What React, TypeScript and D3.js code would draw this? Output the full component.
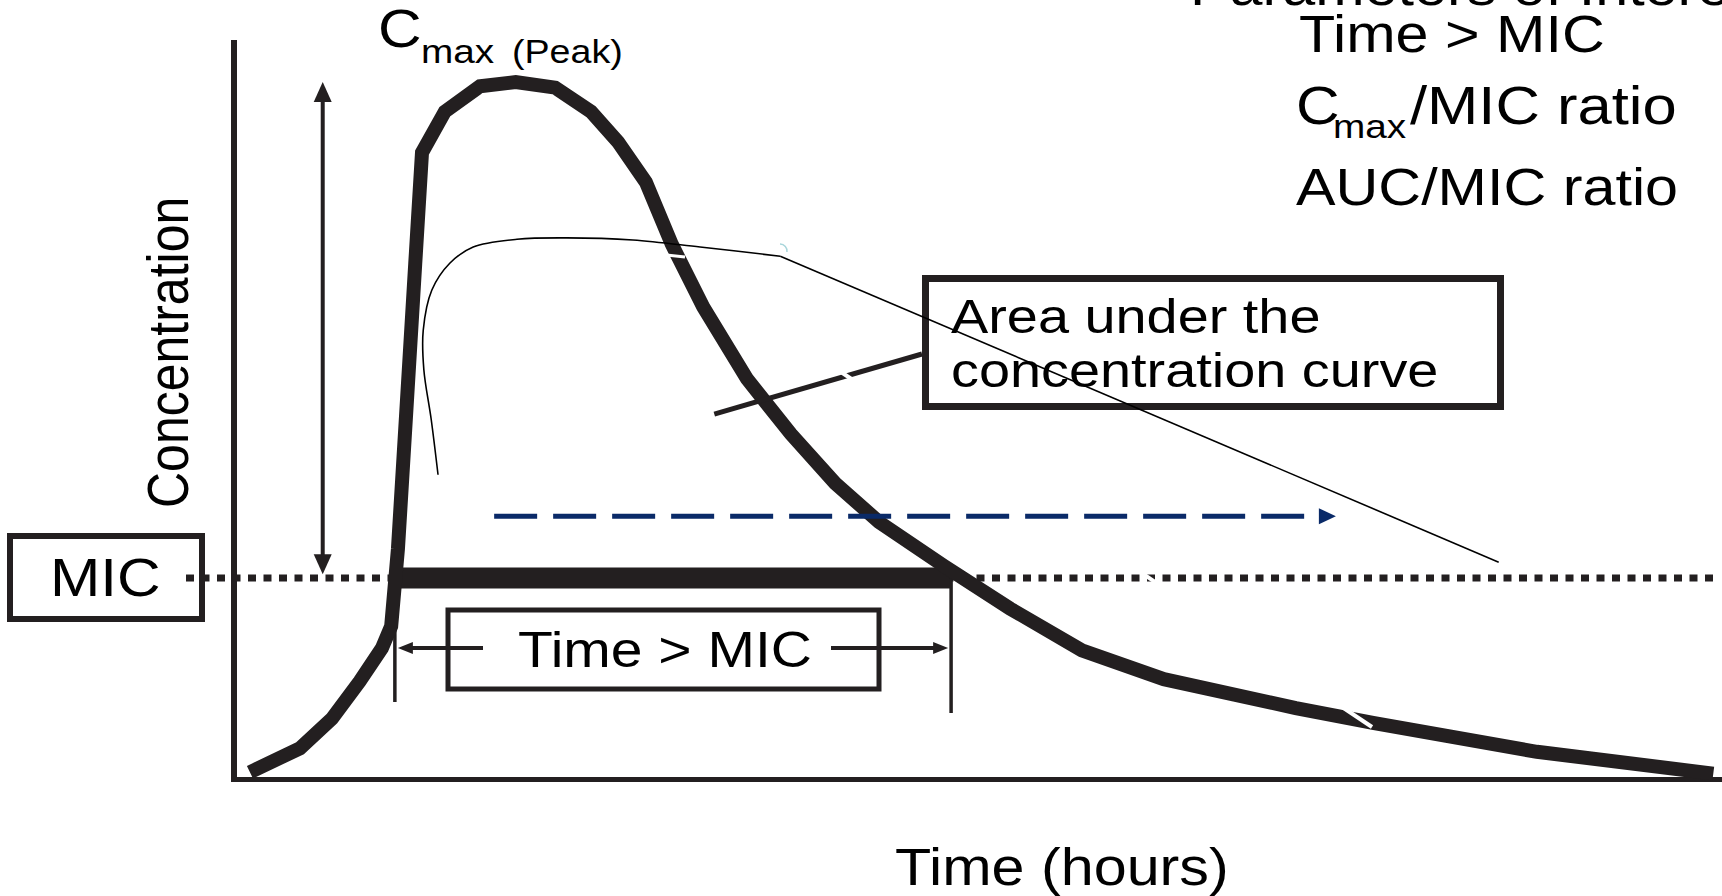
import React from 'react';
import * as d3 from 'd3';

const W = 1722;
const H = 896;

// Concentration–time profile (time in hours, concentration in % of Cmax)
const timeHours = [0.21, 1.02, 1.54, 1.99, 2.35, 2.5, 2.61, 2.74, 2.89, 3.0, 3.37, 3.94, 4.52, 5.16, 5.74, 6.18, 6.63, 7.05, 7.56, 8.27, 8.98, 9.7, 10.41, 11.46, 12.54, 13.7, 15.03, 17.17, 18.42, 21.08, 23.94];
const concentration = [1.1, 4.5, 8.7, 14.0, 18.7, 21.8, 32.8, 51.5, 73.2, 89.0, 94.8, 98.4, 99.0, 98.2, 94.8, 90.5, 84.8, 76.0, 67.1, 56.9, 49.1, 42.1, 36.6, 30.4, 24.3, 18.4, 14.3, 10.2, 8.1, 4.0, 0.9];

// Hand-drawn AUC outline sketch (thin line)
const aucSketchTime = [3.26, 3.15, 3.03, 3.02, 3.16, 3.45, 3.83, 4.54, 5.35, 6.42, 7.51, 8.81];
const aucSketchConc = [43.3, 51.1, 58.2, 63.8, 69.5, 73.3, 75.6, 76.7, 76.9, 76.6, 75.6, 74.3];
const aucPointerEnd = [20.46, 30.9];

const micLevel = 28.65;
const timeAboveMic = [2.56, 11.58];
const cmaxArrowTime = 1.39;
const cmaxArrowConc = [99.0, 29.2];
const durationArrowTime = [4.17, 17.82];
const durationArrowConc = 37.4;
const aucLeaderStart = [7.74, 51.9];

const parameters = ['Time > MIC', 'max', '/MIC ratio', 'AUC/MIC ratio'];

const INK = '#231f20';
const NAVY = '#0a2a68';
const FONT = "'Liberation Sans', Arial, Helvetica, sans-serif";
const SX = 1.14;

const x = d3.scaleLinear().domain([0, 24]).range([237, 237 + 1480]);
const y = d3.scaleLinear().domain([0, 100]).range([780, 75]);

function Txt({ px, py, size, children, rotate = false }: any) {
  const tr = rotate
    ? `translate(${px},${py}) rotate(-90) scale(1,${SX})`
    : `translate(${px},${py}) scale(${SX},1)`;
  return (
    <text transform={tr} fontSize={size} fontFamily={FONT} fill="#000">
      {children}
    </text>
  );
}

export default function App() {
  const mainLine = d3
    .line<number>()
    .x((_, i) => x(timeHours[i]))
    .y((c) => y(c))
    .curve(d3.curveLinear)(concentration) as string;

  const aucLine = d3
    .line<number>()
    .x((_, i) => x(aucSketchTime[i]))
    .y((c) => y(c))
    .curve(d3.curveCatmullRom.alpha(0.5))(aucSketchConc) as string;

  const last = aucSketchTime.length - 1;
  const micY = y(micLevel);
  const ax = x(cmaxArrowTime);
  const aTop = y(cmaxArrowConc[0]);
  const aBot = y(cmaxArrowConc[1]);
  const t1 = x(timeAboveMic[0]);
  const t2 = x(timeAboveMic[1]);
  const dY = y(durationArrowConc);
  const d0 = x(durationArrowTime[0]);
  const d1 = x(durationArrowTime[1]);
  const arrowY = 648;

  return (
    <svg
      width={W}
      height={H}
      viewBox={`0 0 ${W} ${H}`}
      style={{ position: 'fixed', left: 0, top: 0, background: '#fff' }}
    >
      <rect x={0} y={0} width={W} height={H} fill="#fff" />

      {/* axes */}
      <line x1={234} y1={40} x2={234} y2={782} stroke={INK} strokeWidth={6} />
      <line x1={231} y1={779.5} x2={W} y2={779.5} stroke={INK} strokeWidth={5} />

      {/* MIC dotted line */}
      <line x1={186} y1={micY} x2={1716} y2={micY} stroke={INK} strokeWidth={7} strokeDasharray="8 7.5" />

      {/* time above MIC bar */}
      <line x1={t1 - 2} y1={micY} x2={t2} y2={micY} stroke={INK} strokeWidth={21} />
      <line x1={t1} y1={micY} x2={t1} y2={702} stroke={INK} strokeWidth={3.5} />
      <line x1={t2} y1={micY} x2={t2} y2={713} stroke={INK} strokeWidth={3.5} />

      {/* Cmax double arrow */}
      <line x1={ax} y1={aTop + 15} x2={ax} y2={aBot - 15} stroke={INK} strokeWidth={4} />
      <polygon points={`${ax},${aTop} ${ax - 9},${aTop + 20} ${ax + 9},${aTop + 20}`} fill={INK} />
      <polygon points={`${ax},${aBot} ${ax - 9},${aBot - 20} ${ax + 9},${aBot - 20}`} fill={INK} />

      {/* main concentration curve */}
      <path d={mainLine} fill="none" stroke={INK} strokeWidth={14} strokeLinejoin="miter" strokeMiterlimit={3} />

      {/* leader line to the AUC box */}
      <line x1={x(aucLeaderStart[0])} y1={y(aucLeaderStart[1])} x2={922} y2={354} stroke={INK} strokeWidth={5} />

      {/* white scratch artefacts */}
      <line x1={835} y1={368} x2={1372} y2={727} stroke="#fff" strokeWidth={4} />
      <line x1={657} y1={254} x2={685} y2={257} stroke="#fff" strokeWidth={3} />

      {/* thin AUC sketch line */}
      <path d={aucLine} fill="none" stroke="#000" strokeWidth={1.6} />
      <path d="M 780 244 A 7 7 0 0 1 787 252" fill="none" stroke="#a9d6db" strokeWidth={1.5} />

      {/* dashed duration arrow */}
      <line x1={d0} y1={dY} x2={d1 - 16} y2={dY} stroke={NAVY} strokeWidth={5} strokeDasharray="43 16" />
      <polygon points={`${d1},${dY} ${d1 - 17},${dY - 8} ${d1 - 17},${dY + 8}`} fill={NAVY} />

      {/* MIC box */}
      <rect x={10} y={536} width={192} height={83} fill="#fff" stroke={INK} strokeWidth={6} />
      <Txt px={50} py={596} size={53}>MIC</Txt>
      <line x1={186} y1={micY} x2={199} y2={micY} stroke={INK} strokeWidth={7} strokeDasharray="8 7.5" />

      {/* Time > MIC box */}
      <rect x={448} y={610} width={431} height={79} fill="#fff" stroke={INK} strokeWidth={5} />
      <Txt px={518} py={667} size={50}>Time &gt; MIC</Txt>
      <line x1={t1 + 8} y1={arrowY} x2={483} y2={arrowY} stroke={INK} strokeWidth={4} />
      <polygon points={`${t1 + 3},${arrowY} ${t1 + 18},${arrowY - 6} ${t1 + 18},${arrowY + 6}`} fill={INK} />
      <line x1={831} y1={arrowY} x2={t2 - 8} y2={arrowY} stroke={INK} strokeWidth={4} />
      <polygon points={`${t2 - 3},${arrowY} ${t2 - 18},${arrowY - 6} ${t2 - 18},${arrowY + 6}`} fill={INK} />

      {/* AUC box */}
      <rect x={925.5} y={278.5} width={575} height={128} fill="none" stroke={INK} strokeWidth={7} />
      <Txt px={951} py={333} size={49}>Area under the</Txt>
      <Txt px={951} py={387} size={49}>concentration curve</Txt>
      {/* the thin pointer crosses over the box text */}
      <line
        x1={x(aucSketchTime[last])}
        y1={y(aucSketchConc[last])}
        x2={x(aucPointerEnd[0])}
        y2={y(aucPointerEnd[1])}
        stroke="#000"
        strokeWidth={1.6}
      />

      {/* Cmax label */}
      <Txt px={378} py={47} size={53}>C</Txt>
      <Txt px={421} py={63} size={34}>max</Txt>
      <Txt px={512} py={63} size={33}>(Peak)</Txt>

      {/* parameters of interest */}
      <Txt px={1190} py={5} size={52}>Parameters of Interest</Txt>
      <Txt px={1299} py={52} size={52}>{parameters[0]}</Txt>
      <Txt px={1296} py={124} size={53}>C</Txt>
      <Txt px={1333} py={138} size={34}>{parameters[1]}</Txt>
      <Txt px={1410} py={124} size={54}>{parameters[2]}</Txt>
      <Txt px={1296} py={205} size={52}>{parameters[3]}</Txt>

      {/* axis titles */}
      <Txt px={188} py={508} size={50} rotate>Concentration</Txt>
      <Txt px={895} py={885} size={52}>Time (hours)</Txt>
    </svg>
  );
}
